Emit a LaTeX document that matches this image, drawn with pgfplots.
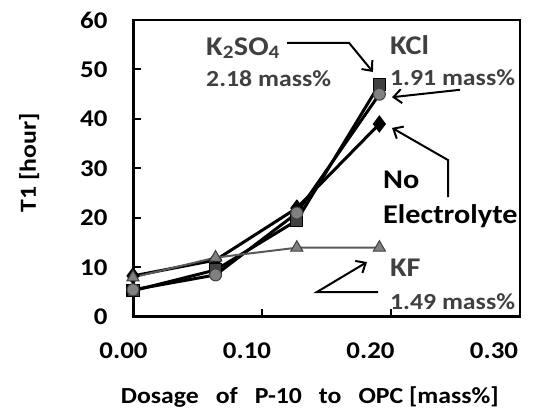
\documentclass[border=0pt]{standalone}
\usepackage{pgfplots}
\pgfplotsset{compat=1.18}
\usepackage{fontspec}
\setmainfont{Carlito}[FakeStretch=1.12]
\usetikzlibrary{arrows.meta}
\definecolor{sqfill}{RGB}{64,64,64}
\definecolor{cifill}{RGB}{128,128,128}
\definecolor{kfline}{RGB}{89,89,89}
\definecolor{txtgray}{RGB}{64,64,64}

\begin{document}
\begin{tikzpicture}[font=\bfseries]
\begin{axis}[
    scale only axis, width=387pt, height=297pt,
    xmin=0, xmax=0.3, ymin=0, ymax=60,
    xtick={0,0.1,0.2,0.3}, ytick={0,10,...,60},
    xtick pos=left, ytick pos=left,
    tick align=inside, major tick length=8pt,
    every tick/.style={black, line width=2pt},
    axis line style={line width=1.5pt},
    clip=false,
    x tick label style={/pgf/number format/.cd, fixed, fixed zerofill, precision=2, /tikz/.cd},
    /pgf/number format/assume math mode=true,
    tick label style={font=\fontsize{24}{26}\selectfont\bfseries},
    xticklabel style={yshift=-22pt, xshift=-9.5pt-5.5pt*\ticknum},
    yticklabel style={xshift=-22pt},
    xlabel={Dosage\hspace{17pt}of\hspace{17pt}P-10\hspace{17pt}to\hspace{17pt}OPC [mass\%]},
    ylabel={T1 [hour]},
    label style={font=\fontsize{23}{25}\selectfont\bfseries},
    x label style={at={(axis description cs:0.457,-0.269)}, anchor=center},
    y label style={at={(axis description cs:-0.268,0.519)}, anchor=center},
]
\draw[line width=3pt] (rel axis cs:0,1) -- (rel axis cs:0,0) -- (rel axis cs:1,0);

% No Electrolyte
\addplot[black, line width=3pt, mark=diamond*, mark size=8pt,
    mark options={fill=black, line width=1pt}] coordinates {
    (0,8.3) (0.064,11.5) (0.127,22) (0.191,39)
};
% K2SO4
\addplot[black, line width=3pt, mark=square*, mark size=6pt,
    mark options={fill=sqfill, draw=black, line width=1pt}] coordinates {
    (0,5.3) (0.064,9.5) (0.127,19.5) (0.191,47)
};
% KCl
\addplot[black, line width=3pt, mark=*, mark size=6pt,
    mark options={fill=cifill, draw=sqfill, line width=1pt}] coordinates {
    (0,5.5) (0.064,8.5) (0.127,21) (0.191,45)
};
% KF
\addplot[kfline, line width=2pt, mark=triangle*, mark size=7pt,
    mark options={fill=cifill, draw=sqfill, line width=1pt}] coordinates {
    (0,8) (0.064,12) (0.127,14) (0.191,14)
};

\tikzset{lbl/.style={anchor=west, inner sep=0pt}}
\node[lbl, txtgray, font=\fontsize{27}{29}\selectfont\bfseries] at (axis cs:0.0566,54.3) {K\textsubscript{2}SO\textsubscript{4}};
\node[lbl, txtgray, font=\fontsize{23}{25}\selectfont\bfseries] at (axis cs:0.0566,48.1) {2.18 mass\%};
\node[lbl, txtgray, font=\fontsize{27}{29}\selectfont\bfseries] at (axis cs:0.1992,54.9) {KCl};
\node[lbl, txtgray, font=\fontsize{23}{25}\selectfont\bfseries] at (axis cs:0.1992,48.3) {1.91 mass\%};
\node[lbl, black, font=\fontsize{27}{29}\selectfont\bfseries] at (axis cs:0.1938,27.7) {No};
\node[lbl, black, font=\fontsize{27}{29}\selectfont\bfseries] at (axis cs:0.1938,20.4) {Electrolyte};
\node[lbl, txtgray, font=\fontsize{27}{29}\selectfont\bfseries] at (axis cs:0.1992,9.9) {KF};
\node[lbl, txtgray, font=\fontsize{23}{25}\selectfont\bfseries] at (axis cs:0.1992,3.0) {1.49 mass\%};

\tikzset{arr/.style={black, line width=2pt, -{Straight Barb[length=8pt, width=14pt]}}}
\draw[arr] (axis cs:0.1194,55.4) -- (axis cs:0.1674,55.4) -- (axis cs:0.186,49.5);
\draw[arr] (axis cs:0.2535,45.9) -- (axis cs:0.2008,44.4);
\draw[arr] (axis cs:0.2442,24.2) -- (axis cs:0.2442,31.7) -- (axis cs:0.2008,38.2);
\draw[arr] (axis cs:0.19,5.05) -- (axis cs:0.1426,5.05) -- (axis cs:0.1814,11.1);
\end{axis}
\path (current axis.south west) ++(-133pt,-99pt) coordinate (bbA);
\path (current axis.north east) ++(22pt,20pt) coordinate (bbB);
\path (bbA) rectangle (bbB);
\end{tikzpicture}
\end{document}
